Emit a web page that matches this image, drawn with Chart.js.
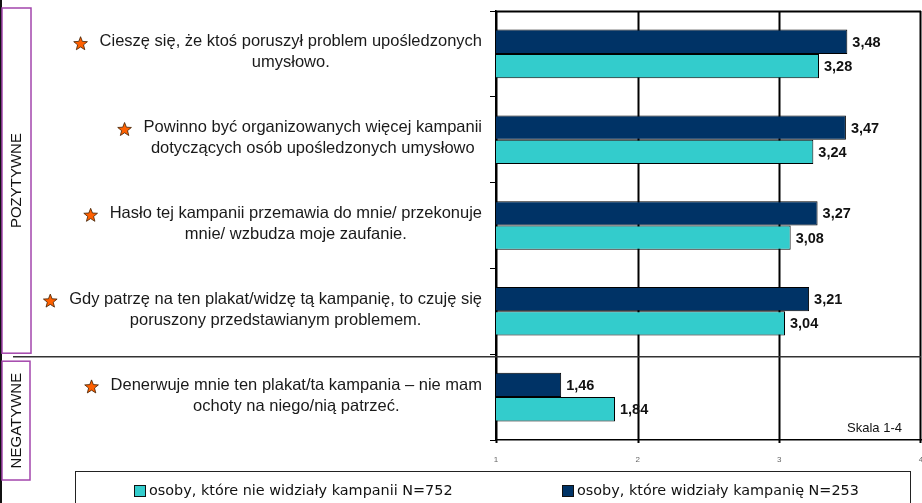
<!DOCTYPE html>
<html>
<head>
<meta charset="utf-8">
<script src="https://cdn.jsdelivr.net/npm/chart.js@4.4.0/dist/chart.umd.min.js"></script>
<style>
  html, body { margin: 0; padding: 0; background: #fff; }
  #wrap { width: 922px; height: 503px; position: relative; }
</style>
</head>
<body>
<div id="wrap"><canvas id="c" width="922" height="503"></canvas></div>
<script>
// -------- dane --------
const statements = [
  ["Cieszę się, że ktoś poruszył problem upośledzonych", "umysłowo."],
  ["Powinno być organizowanych więcej kampanii", "dotyczących osób upośledzonych umysłowo"],
  ["Hasło tej kampanii przemawia do mnie/ przekonuje", "mnie/ wzbudza moje zaufanie."],
  ["Gdy patrzę na ten plakat/widzę tą kampanię, to czuję się", "poruszony przedstawianym problemem."],
  ["Denerwuje mnie ten plakat/ta kampania – nie mam", "ochoty na niego/nią patrzeć."]
];
const seenLabel = "osoby, które widziały kampanię N=253";
const notSeenLabel = "osoby, które nie widziały kampanii N=752";
const seenValues = [3.48, 3.47, 3.27, 3.21, 1.46];
const notSeenValues = [3.28, 3.24, 3.08, 3.04, 1.84];
const xTicks = [1, 2, 3, 4];
const groupNames = ["POZYTYWNE", "NEGATYWNE"];
const scaleNote = "Skala 1-4";

// -------- kolory / fonty --------
const DARK = "#003366";
const CYAN = "#33CCCC";
const PURPLE = "#A346AC";
const SANS = "'Liberation Sans', Arial, sans-serif";
const fmt = (v) => v.toFixed(2).replace(".", ",");

function drawStar(ctx, cx, cy, R, r) {
  ctx.beginPath();
  for (let i = 0; i < 10; i++) {
    const rad = i % 2 === 0 ? R : r;
    const a = -Math.PI / 2 + i * Math.PI / 5;
    const px = cx + rad * Math.cos(a), py = cy + rad * Math.sin(a);
    i === 0 ? ctx.moveTo(px, py) : ctx.lineTo(px, py);
  }
  ctx.closePath();
  ctx.fillStyle = "#FF6000";
  ctx.fill();
  ctx.lineWidth = 0.8;
  ctx.strokeStyle = "#402000";
  ctx.stroke();
}

// siatka pod słupkami
const gridUnder = {
  id: "gridUnder",
  beforeDatasetsDraw(chart) {
    const { ctx, chartArea: ca, scales } = chart;
    const xs = scales.x;
    ctx.save();
    ctx.fillStyle = "#000000";
    xTicks.forEach(v => {
      const px = Math.min(Math.round(xs.getPixelForValue(v)), 920);
      ctx.fillRect(px - 0.5, ca.top, 2, ca.bottom - ca.top + 3);
    });
    ctx.fillRect(ca.left, Math.round(ca.top) - 0.5, ca.right - ca.left, 2);
    ctx.restore();
  }
};

// etykiety, ramki, legenda
const decor = {
  id: "decor",
  afterDraw(chart) {
    const { ctx, chartArea: ca, scales } = chart;
    const ys = scales.y;
    ctx.save();

    // czarna linia na lewej krawędzi
    ctx.fillStyle = "#111";
    ctx.fillRect(0, 0, 2, 503);

    // separator pozytywne / negatywne
    const sepY = (ys.getPixelForValue(3) + ys.getPixelForValue(4)) / 2 + 2;
    ctx.fillStyle = "#333";
    ctx.fillRect(13, Math.round(sepY), ca.right - 13, 1.5);

    // ramki grup
    const posTop = 8, posBot = sepY - 3;
    const negTop = sepY + 5, negBot = 480;
    ctx.strokeStyle = PURPLE;
    ctx.lineWidth = 1.5;
    ctx.strokeRect(2, posTop, 29, posBot - posTop);
    ctx.strokeRect(2, negTop, 28, negBot - negTop);

    ctx.fillStyle = "#111";
    ctx.font = "15px " + SANS;
    ctx.textAlign = "center";
    ctx.textBaseline = "middle";
    [[posTop, posBot], [negTop, negBot]].forEach(([t, b], i) => {
      ctx.save();
      ctx.translate(17, (t + b) / 2);
      ctx.rotate(-Math.PI / 2);
      ctx.fillText(groupNames[i], 0, 0);
      ctx.restore();
    });

    // etykiety stwierdzeń
    ctx.font = "16.5px " + SANS;
    const rightEdge = 482;
    statements.forEach((lines, i) => {
      const cy = ys.getPixelForValue(i);
      const widths = lines.map(l => ctx.measureText(l).width);
      const maxW = Math.max(...widths);
      const cx = rightEdge - maxW / 2;
      const y1 = cy - 12, y2 = cy + 9;
      ctx.fillStyle = "#1a1a1a";
      ctx.fillText(lines[0], cx, y1);
      ctx.fillText(lines[1], cx, y2);
      drawStar(ctx, cx - widths[0] / 2 - 19, y1 + 2, 7.2, 3.1);
    });

    // wartości przy słupkach
    ctx.font = "bold 14.5px " + SANS;
    ctx.fillStyle = "#111";
    ctx.textAlign = "left";
    chart.data.datasets.forEach((ds, di) => {
      chart.getDatasetMeta(di).data.forEach((bar, j) => {
        ctx.fillText(fmt(ds.data[j]), bar.x + 5, bar.y + 1);
      });
    });

    // skala
    ctx.font = "13px " + SANS;
    ctx.textAlign = "right";
    ctx.fillText(scaleNote, ca.right - 19, ca.bottom - 12);

    // legenda
    ctx.strokeStyle = "#222";
    ctx.lineWidth = 1;
    ctx.strokeRect(75.5, 471.5, 835, 40);
    ctx.font = "14.4px 'DejaVu Sans', Verdana, sans-serif";
    ctx.textAlign = "left";
    const items = [[CYAN, notSeenLabel, 134], [DARK, seenLabel, 562]];
    items.forEach(([col, txt, lx]) => {
      ctx.fillStyle = col;
      ctx.fillRect(lx + 0.5, 485.5, 11, 11);
      ctx.strokeStyle = "#111";
      ctx.strokeRect(lx + 0.5, 485.5, 11, 11);
      ctx.fillStyle = "#111";
      ctx.fillText(txt, lx + 15, 491);
    });

    ctx.restore();
  }
};

new Chart(document.getElementById("c"), {
  type: "bar",
  data: {
    labels: statements.map(s => s.join(" ")),
    datasets: [
      { label: seenLabel, data: seenValues, base: xTicks[0], backgroundColor: DARK, borderColor: "#000", borderWidth: 1 },
      { label: notSeenLabel, data: notSeenValues, base: xTicks[0], backgroundColor: CYAN, borderColor: "#000", borderWidth: 1 }
    ]
  },
  options: {
    indexAxis: "y",
    responsive: false,
    animation: false,
    devicePixelRatio: 1,
    categoryPercentage: 0.566,
    barPercentage: 1.0,
    layout: { padding: { top: 11, right: 1, left: 0, bottom: 0 } },
    plugins: { legend: { display: false }, tooltip: { enabled: false } },
    scales: {
      x: {
        min: xTicks[0],
        max: xTicks[xTicks.length - 1],
        ticks: { stepSize: 1, font: { size: 8, family: SANS }, color: "#666", padding: 7 },
        grid: { display: false },
        border: { color: "#000", width: 1.5 },
        afterFit: (s) => { s.height = 63; s.paddingLeft = 0; s.paddingRight = 0; }
      },
      y: {
        ticks: { display: false },
        grid: { drawOnChartArea: false, color: "#000", tickLength: 6, offset: true },
        border: { color: "#000", width: 1.5 },
        afterFit: (s) => { s.width = 496; }
      }
    }
  },
  plugins: [gridUnder, decor]
});
</script>
</body>
</html>
